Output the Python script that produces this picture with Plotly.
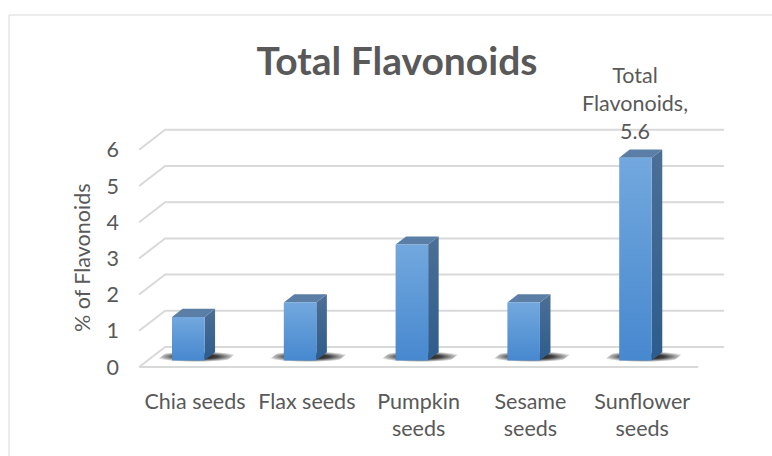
import plotly.graph_objects as go

# ---------------- data ----------------
CATEGORIES = ["Chia seeds", "Flax seeds", "Pumpkin seeds", "Sesame seeds", "Sunflower seeds"]
TICK_TEXT = ["Chia seeds", "Flax seeds", "Pumpkin<br>seeds", "Sesame<br>seeds", "Sunflower<br>seeds"]
VALUES = [1.2, 1.6, 3.2, 1.6, 5.6]
SERIES_NAME = "Total Flavonoids"
Y_TICKS = [0, 1, 2, 3, 4, 5, 6]
LABELLED_INDEX = [4]
TITLE = "Total Flavonoids"
Y_TITLE = "% of Flavonoids"

# ---------------- 3D-ish projection constants (style) ----------------
DX = 0.2326   # depth shift in category units (front -> back wall)
DY = 0.5525   # depth shift in value units
D0, D1 = 0.33, 0.735     # bar front / back depth
BAR_LEFT, BAR_W = -0.2826, 0.291
FLOOR_L, FLOOR_R = -0.5, len(CATEGORIES) - 0.5

FONT = "Lato, Carlito, Calibri, sans-serif"
TXT = "#595959"
GRID = "#d9d9d9"
FS = 21.5

# plot-area geometry (pixels) used for paper-referenced placement
ML, MR, MT, MB = 120, 20, 20, 80
W, H = 772, 456
PW, PH = W - ML - MR, H - MT - MB


def px2paper_x(px):
    return (px - ML) / PW


def py2paper_y(py):
    return (H - MB - py) / PH


def P(x, y, d):
    return x + d * DX, y + d * DY


def poly(pts):
    xs = [p[0] for p in pts] + [pts[0][0]]
    ys = [p[1] for p in pts] + [pts[0][1]]
    return xs, ys


fig = go.Figure()

# gridlines on back wall + left side wall
gx, gy = [], []
for v in Y_TICKS:
    a, b, c = P(FLOOR_L, v, 0), P(FLOOR_L, v, 1), P(FLOOR_R, v, 1)
    gx += [a[0], b[0], c[0], None]
    gy += [a[1], b[1], c[1], None]
a, b = P(FLOOR_L, 0, 0), P(FLOOR_R, 0, 0)
gx += [a[0], b[0]]
gy += [a[1], b[1]]
fig.add_trace(go.Scatter(x=gx, y=gy, mode="lines", line=dict(color=GRID, width=2),
                         hoverinfo="skip", showlegend=False))

for i, v in enumerate(VALUES):
    xl = i + BAR_LEFT
    xr = xl + BAR_W
    # shadow on floor
    sx, sy = poly([P(xl - 0.14, 0, D0 - 0.08), P(xr + 0.2, 0, D0 - 0.08),
                   P(xr + 0.2, 0, D1 + 0.05), P(xl - 0.14, 0, D1 + 0.05)])
    fig.add_trace(go.Scatter(x=sx, y=sy, mode="lines", line=dict(width=0),
                             fill="toself",
                             fillgradient=dict(type="radial",
                                               colorscale=[[0, "rgba(0,0,0,0.95)"],
                                                           [0.5, "rgba(0,0,0,0.75)"],
                                                           [1, "rgba(0,0,0,0)"]]),
                             hoverinfo="skip", showlegend=False))
    # side face
    sx, sy = poly([P(xr, 0, D0), P(xr, 0, D1), P(xr, v, D1), P(xr, v, D0)])
    fig.add_trace(go.Scatter(x=sx, y=sy, mode="lines", line=dict(width=0),
                             fill="toself",
                             fillgradient=dict(type="vertical",
                                               colorscale=[[0, "#2d5c8c"], [1, "#4c6f96"]]),
                             hoverinfo="skip", showlegend=False))
    # top face
    sx, sy = poly([P(xl, v, D0), P(xr, v, D0), P(xr, v, D1), P(xl, v, D1)])
    fig.add_trace(go.Scatter(x=sx, y=sy, mode="lines", line=dict(width=0),
                             fill="toself", fillcolor="#5a7ea6",
                             hoverinfo="skip", showlegend=False))
    # front face
    sx, sy = poly([P(xl, 0, D0), P(xr, 0, D0), P(xr, v, D0), P(xl, v, D0)])
    fig.add_trace(go.Scatter(x=sx, y=sy, mode="lines", line=dict(width=0),
                             fill="toself", name=CATEGORIES[i],
                             fillgradient=dict(type="vertical",
                                               colorscale=[[0, "#4788cf"], [1, "#72a8de"]]),
                             hoverinfo="skip", showlegend=False))
    if i in LABELLED_INDEX:
        lx, _ = P(xl + BAR_W / 2, v, D0)
        _, ly = P(xl, v, D1)
        fig.add_annotation(x=lx, y=ly, xref="x", yref="y",
                           text=SERIES_NAME.replace(" ", "<br>") + f",<br>{v}",
                           showarrow=False,
                           yanchor="bottom", xanchor="center", yshift=4,
                           font=dict(family=FONT, size=FS, color=TXT))

# y-axis title (placed like Excel's, centred on the value range rather than plot area)
fig.add_annotation(x=px2paper_x(82), y=py2paper_y(258), xref="paper", yref="paper",
                   text=Y_TITLE, textangle=-90, showarrow=False,
                   xanchor="center", yanchor="middle",
                   font=dict(family=FONT, size=FS, color=TXT))

fig.update_layout(
    width=W, height=H,
    margin=dict(l=ML, r=MR, t=MT, b=MB),
    paper_bgcolor="white", plot_bgcolor="white",
    title=dict(text=TITLE, xref="container", yref="container",
               x=397 / W, y=1 - 61 / H, xanchor="center", yanchor="middle",
               font=dict(family=FONT, size=39, color=TXT, weight="bold")),
    xaxis=dict(range=[-0.671, 4.982], tickmode="array",
               tickvals=list(range(len(CATEGORIES))), ticktext=TICK_TEXT,
               showgrid=False, zeroline=False, showline=False, ticks="",
               ticklabelstandoff=10,
               tickfont=dict(family=FONT, size=FS, color=TXT), fixedrange=True),
    yaxis=dict(range=[-0.249, 9.585], tickmode="array", tickvals=Y_TICKS,
               showgrid=False, zeroline=False, showline=False, ticks="",
               tickfont=dict(family=FONT, size=FS, color=TXT), fixedrange=True),
    shapes=[dict(type="rect", xref="paper", yref="paper",
                 x0=px2paper_x(9), x1=px2paper_x(790),
                 y0=py2paper_y(470), y1=py2paper_y(15),
                 line=dict(color=GRID, width=1), fillcolor="rgba(0,0,0,0)", layer="below")],
)

fig.write_html("out.html")
